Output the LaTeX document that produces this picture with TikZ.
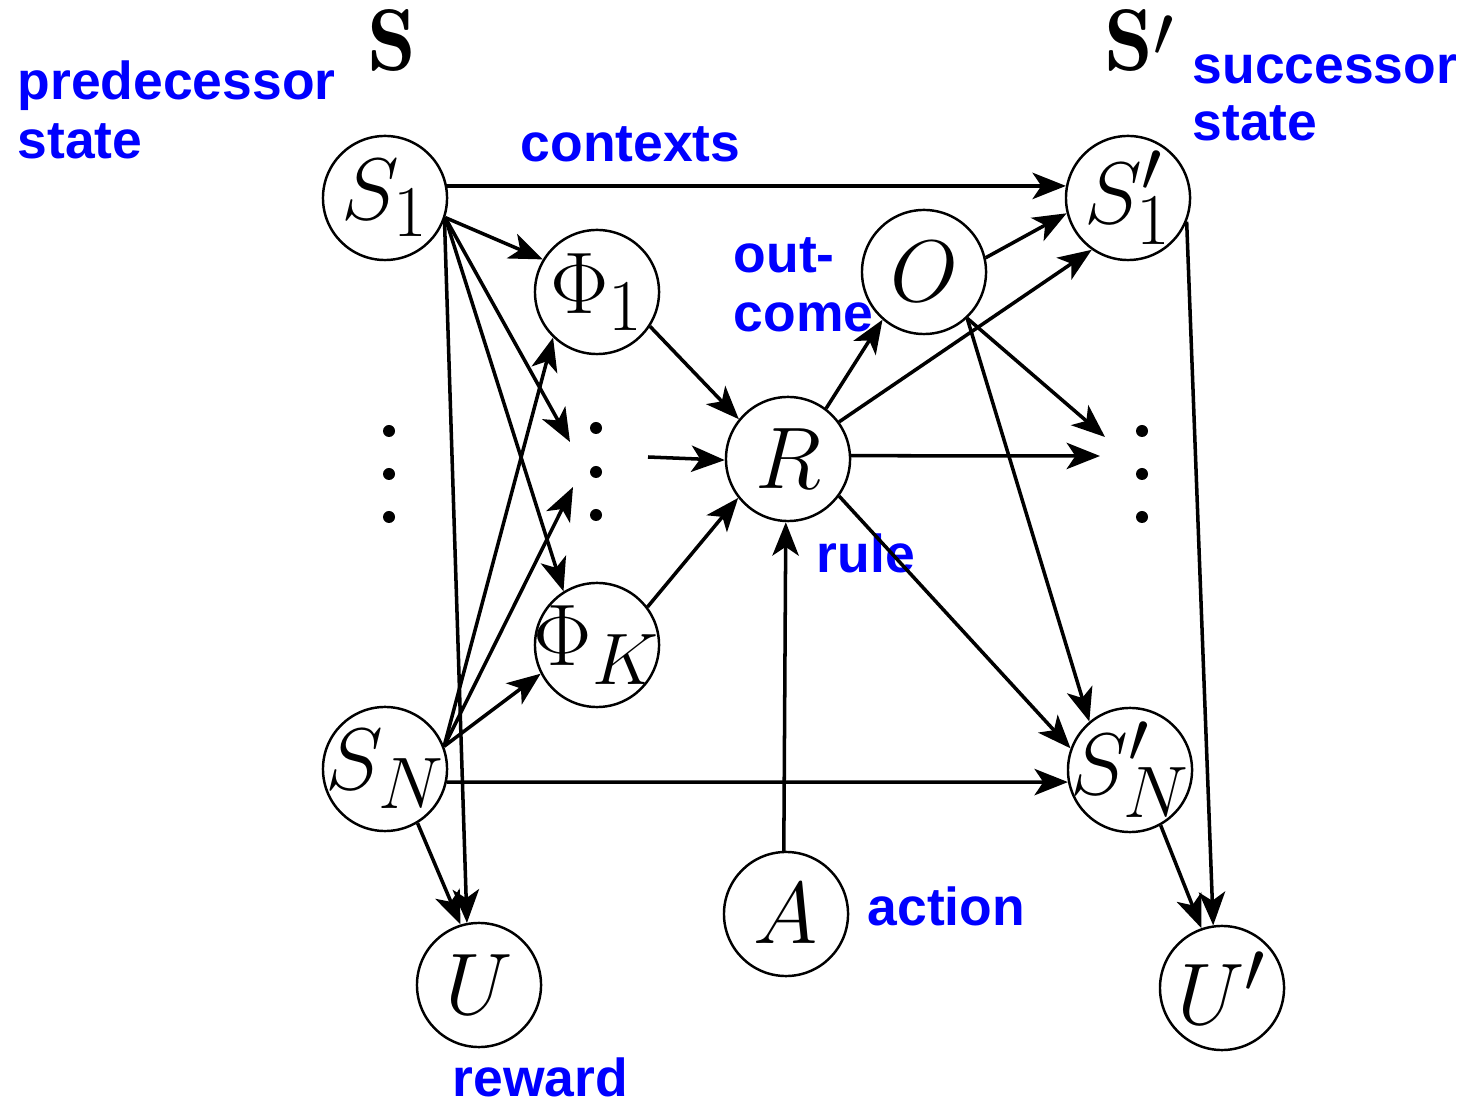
\documentclass[tikz,border=0pt]{standalone}
\usepackage{fontspec}
\setsansfont{Liberation Sans}
\usetikzlibrary{arrows.meta}
% node text in a zero-width box, so that every circle keeps the same size
\newcommand{\nodemath}[1]{\makebox[0pt]{$#1$}}
\tikzset{
  var/.style={circle, draw, line width=0.7pt, minimum size=1.24cm, inner sep=0pt, font=\Huge},
  dep/.style={line width=1pt, -{Stealth[length=9.5pt,width=7.5pt,inset=2.5pt]}},
  lbl/.style={text=blue, font=\fontsize{15.2}{16.5}\selectfont\sffamily\bfseries, inner sep=0pt, anchor=base west},
  setlbl/.style={font=\Huge, inner sep=0pt, anchor=base west},
  dotmark/.style={circle, fill, minimum size=0.12cm, inner sep=0pt}
}
\begin{document}
\begin{tikzpicture}[x=0.01cm, y=-0.01cm]
  \path[use as bounding box] (0,0) rectangle (1461,1104);

  % variables
  \node[var] (S1)  at (385,198)  {\nodemath{S_1}};
  \node[var] (SN)  at (385,769)  {\nodemath{S_N}};
  \node[var] (P1)  at (597,292)  {\nodemath{\Phi_1}};
  \node[var] (PK)  at (597,645)  {\nodemath{\Phi_K}};
  \node[var] (R)   at (788,459)  {\nodemath{R}};
  \node[var] (O)   at (924,272)  {\nodemath{O}};
  \node[var] (S1p) at (1128,198) {\nodemath{S'_1}};
  \node[var] (SNp) at (1130,770) {\nodemath{S'_N}};
  \node[var] (A)   at (786,914)  {\nodemath{A}};
  \node[var] (U)   at (479,985)  {\nodemath{U}};
  \node[var] (Up)  at (1222,988) {\nodemath{U'}};

  % vertical ellipses
  \foreach \y [count=\i] in {431,474,517} \node[dotmark] (dl\i) at (389,\y) {};
  \foreach \y [count=\i] in {428,472,515} \node[dotmark] (dm\i) at (596,\y) {};
  \foreach \y [count=\i] in {431,474,517} \node[dotmark] (dr\i) at (1142,\y) {};

  % free ends of the connectors to and from the ellipses
  \coordinate (mTop) at (570,442);
  \coordinate (mBot) at (573,487);
  \coordinate (mOut) at (648,457);
  \coordinate (rIn)  at (1100,456);
  \coordinate (oIn)  at (1105,437);

  % set labels
  \node[setlbl] (Sset)  at (367,71)  {$\mathbf{S}$};
  \node[setlbl] (Spset) at (1104,71) {$\mathbf{S}$\raisebox{-5pt}{$'$}};

  % blue annotations
  \node[lbl] (pred1) at (17,100)   {predecessor};
  \node[lbl] (pred2) at (17,159)   {state};
  \node[lbl] (succ1) at (1192,84)  {successor};
  \node[lbl] (succ2) at (1192,141) {state};
  \node[lbl] (ctx)   at (520,162)  {contexts};
  \node[lbl] (out1)  at (733,273)  {out-};
  \node[lbl] (out2)  at (733,332)  {come};
  \node[lbl] (rule)  at (816,573)  {rule};
  \node[lbl] (act)   at (867,925)  {action};
  \node[lbl] (rew)   at (452,1096) {reward};

  % from S_1
  \draw[dep] (S1.11)  -- (S1p.169);
  \draw[dep] (S1.-18) -- (P1.149);
  \draw[dep] (S1.-18) -- (mTop);
  \draw[dep] (S1.-18) -- (PK.122);
  \draw[dep] (S1.-20) -- (U.101);

  % from S_N
  \draw[dep] (SN.21)  -- (P1.226);
  \draw[dep] (SN.21)  -- (mBot);
  \draw[dep] (SN.21)  -- (PK.207);
  \draw[dep] (SN.-12) -- (SNp.191);
  \draw[dep] (SN.-59) -- (U.107);

  % contexts to rule
  \draw[dep] (P1.-33) -- (R.141);
  \draw[dep] (PK.37)  -- (R.218);
  \draw[dep] (mOut)   -- (R.181);

  % action to rule
  \draw[dep] (A.92) -- (R.268);

  % from the rule
  \draw[dep] (R.53)  -- (O.229);
  \draw[dep] (R.36)  -- (S1p.235);
  \draw[dep] (R.3)   -- (rIn);
  \draw[dep] (R.-36) -- (SNp.160);

  % from the outcome
  \draw[dep] (O.13)  -- (S1p.194);
  \draw[dep] (O.-47) -- (oIn);
  \draw[dep] (O.-47) -- (SNp.130);

  % successor rewards
  \draw[dep] (S1p.-22) -- (Up.98);
  \draw[dep] (SNp.-61) -- (Up.109);
\end{tikzpicture}
\end{document}
